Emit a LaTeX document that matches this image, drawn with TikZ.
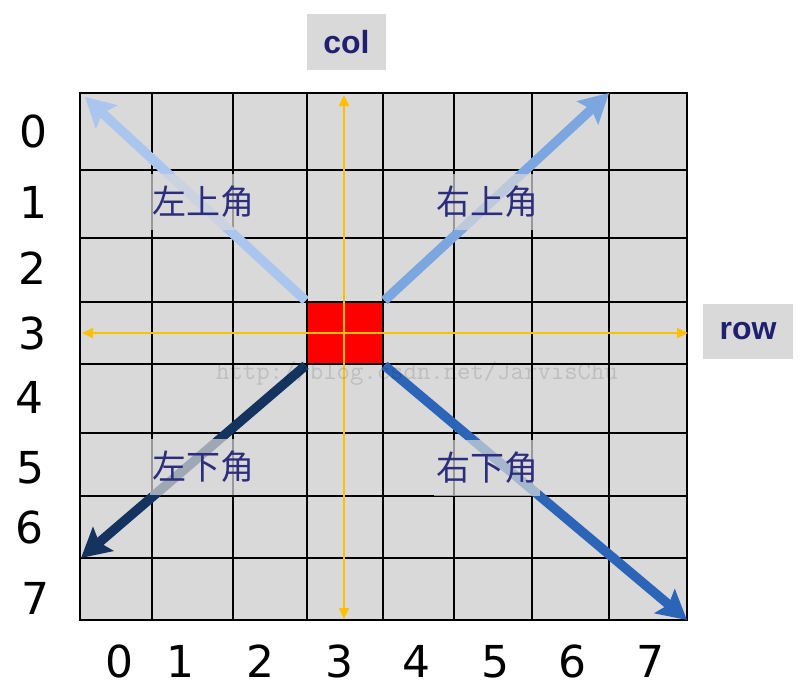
\documentclass[tikz,border=0pt]{standalone}
\usepackage{fontspec}
\newfontfamily\digitfont{DejaVu Sans}
\newfontfamily\tagfont{Liberation Sans}
\newfontfamily\cjk{Noto Sans CJK SC}
\usetikzlibrary{arrows.meta}
\definecolor{cellgray}{HTML}{D9D9D9}
\definecolor{tagblue}{RGB}{32,32,112}
\definecolor{labelblue}{RGB}{45,45,125}
\definecolor{axisyellow}{HTML}{FFC000}
\definecolor{ulblue}{HTML}{AAC6EE}
\definecolor{urblue}{HTML}{7BA6E0}
\definecolor{llblue}{HTML}{14335F}
\definecolor{lrblue}{HTML}{2C65B8}
\tikzset{
    grid diagram/.style = {x=1pt, y=-1pt},
    gridline/.style     = {line width=2.8pt, line cap=rect},
    current/.style      = {draw, line width=2.8pt, fill=red, inner sep=0pt,
                           minimum width=76pt, minimum height=62pt},
    axis/.style         = {draw=axisyellow, line width=2pt,
                           {Triangle[length=11pt,width=10pt]}-{Triangle[length=11pt,width=10pt]}},
    corner/.style       = {line width=9.5pt,
                           -{Stealth[length=29pt,width=31pt,inset=5pt]}},
    corner label/.style = {fill=cellgray, fill opacity=0.7, text opacity=1,
                           text=labelblue, inner sep=0pt,
                           font=\cjk\fontsize{34}{36}\selectfont,
                           minimum width=106pt, minimum height=56pt},
    index/.style        = {font=\digitfont\fontsize{44}{50}\selectfont,
                           inner sep=0pt},
    tag/.style          = {fill=cellgray, text=tagblue, inner sep=0pt,
                           font=\tagfont\bfseries\fontsize{32}{36}\selectfont},
    watermark/.style    = {text=black, text opacity=0.12,
                           font=\ttfamily\fontsize{26}{28}\selectfont}
}

\begin{document}
\begin{tikzpicture}[grid diagram]
\useasboundingbox (0,0) rectangle (800,693);

% ================= Board =================
\fill[cellgray] (80,93) rectangle (687,620);
\node[current] (cur) at (345,333) {};
\foreach \x in {80,152,233,307,383,454,532,609,687}
    \draw[gridline] (\x,93) -- (\x,620);
\foreach \y in {93,170,238,302,364,433,496,558,620}
    \draw[gridline] (80,\y) -- (687,\y);

% ================= Row / column axes =================
\coordinate (colTop) at (344,95);
\coordinate (colBot) at (344,619);
\coordinate (rowL) at (82,333);
\coordinate (rowR) at (688,333);
\draw[axis] (colBot) -- (colTop);
\draw[axis] (rowL) -- (rowR);

% ================= Corner arrows =================
\coordinate (ul) at (85,97);
\coordinate (ur) at (609,93);
\coordinate (ll) at (81,558);
\coordinate (lr) at (687,620);
\draw[corner, draw=ulblue] (cur.north west) -- (ul);
\draw[corner, draw=urblue] (cur.north east) -- (ur);
\draw[corner, draw=llblue] (cur.south west) -- (ll);
\draw[corner, draw=lrblue] (cur.south east) -- (lr);
\node[corner label] (ulText) at (203,202) {左上角};
\node[corner label] (urText) at (487,202) {右上角};
\node[corner label] (llText) at (203,467) {左下角};
\node[corner label] (lrText) at (487,468) {右下角};

% ================= Indices =================
\foreach \i/\x/\y in {0/33/131, 1/33/202, 2/32/268, 3/32/333,
                      4/29/397, 5/30/468, 6/29/527, 7/35/598}
    \node[index] (r\i) at (\x,\y) {\i};
\foreach \i/\x in {0/119.5, 1/180.5, 2/260.5, 3/339.5,
                   4/416, 5/495, 6/572, 7/650}
    \node[index] (c\i) at (\x,661.5) {\i};
\node[tag, minimum width=79pt, minimum height=56pt] (colTag) at (346.5,42) {col};
\node[tag, minimum width=90pt, minimum height=55pt] (rowTag) at (748,331.5) {row};

\node[watermark] (mark) at (417,373) {http://blog.csdn.net/JarvisChu};

\end{tikzpicture}
\end{document}
